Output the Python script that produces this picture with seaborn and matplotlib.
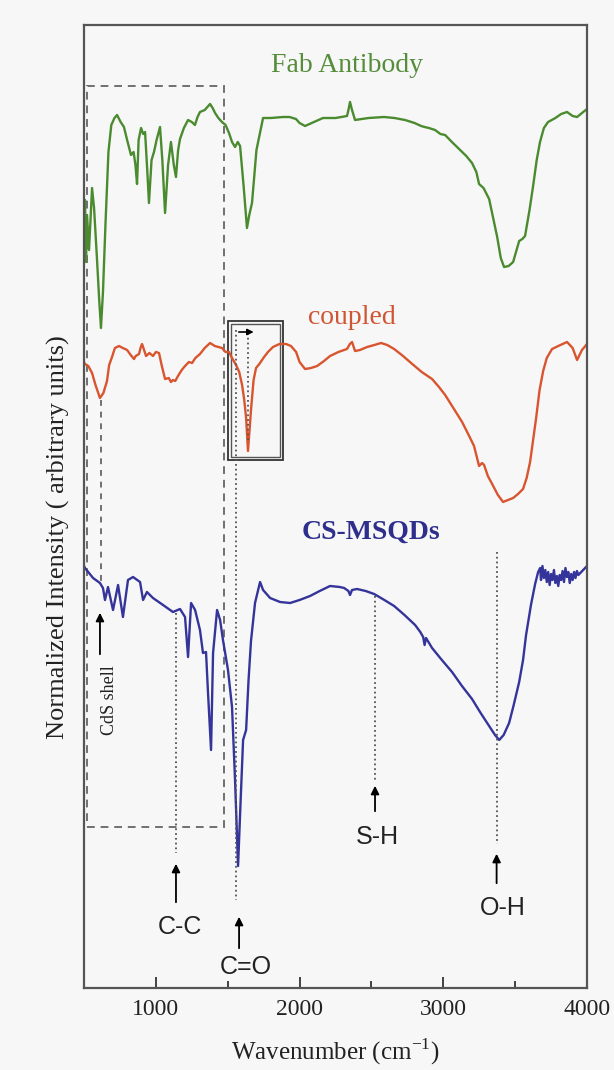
import numpy as np
import pandas as pd
import matplotlib
matplotlib.use("Agg")
import matplotlib.pyplot as plt
from matplotlib.patches import Rectangle
from matplotlib.ticker import FixedLocator
import seaborn as sns

# FTIR spectra, intensity in arbitrary units (curves already offset)
fab_wn = [500, 507, 514, 521, 535, 556, 570, 590, 605, 618, 632, 650, 670, 690, 712, 730, 755, 778,
          800, 827, 845, 858, 869, 880, 897, 912, 925, 940, 952, 970, 987, 1005, 1029, 1045, 1064,
          1085, 1105, 1125, 1140, 1155, 1168, 1195, 1224, 1250, 1272, 1290, 1307, 1340, 1377, 1395,
          1412, 1435, 1460, 1485, 1509, 1530, 1551, 1570, 1586, 1610, 1634, 1650, 1669, 1700, 1746,
          1800, 1885, 1930, 1975, 2000, 2038, 2100, 2163, 2250, 2330, 2340, 2351, 2365, 2386, 2480,
          2588, 2660, 2734, 2800, 2846, 2870, 2900, 2943, 2980, 3013, 3060, 3110, 3160, 3200, 3230,
          3249, 3280, 3319, 3350, 3375, 3400, 3423, 3455, 3486, 3510, 3528, 3550, 3569, 3600, 3625,
          3650, 3673, 3700, 3729, 3780, 3820, 3861, 3900, 3931, 3965, 4000]
fab_int = [743, 788, 726, 773, 738, 800, 780, 730, 690, 660, 696, 766, 836, 863, 870, 873, 866, 861,
           848, 833, 836, 823, 804, 848, 860, 854, 856, 818, 785, 828, 836, 848, 861, 828, 775,
           823, 846, 823, 811, 838, 849, 860, 868, 866, 863, 871, 876, 878, 884, 880,
           875, 870, 866, 863, 855, 846, 841, 846, 842, 803, 760, 773, 785, 838, 870,
           870, 871, 871, 869, 865, 862, 866, 870, 870, 872, 878, 886, 878, 868, 870,
           871, 870, 868, 865, 862, 861, 860, 858, 854, 853, 846, 839, 832, 825, 816,
           804, 800, 789, 768, 751, 730, 721, 722, 726, 738, 747, 749, 752, 778, 802,
           828, 846, 860, 866, 870, 874, 876, 872, 871, 875, 879]

cpl_wn = [500, 507, 530, 556, 580, 611, 635, 660, 675, 695, 715, 744, 770, 800, 825, 848, 860, 883,
          893, 904, 918, 932, 955, 980, 1000, 1022, 1040, 1064, 1090, 1105, 1119, 1135, 1154, 1180,
          1203, 1230, 1252, 1275, 1307, 1340, 1377, 1410, 1460, 1485, 1509, 1530, 1558, 1580, 1600,
          1615, 1628, 1641, 1652, 1662, 1680, 1697, 1720, 1753, 1780, 1815, 1860, 1906, 1940, 1976,
          2000, 2038, 2080, 2122, 2170, 2212, 2270, 2330, 2350, 2365, 2386, 2420, 2470, 2520, 2567,
          2610, 2658, 2720, 2776, 2850, 2922, 2970, 3013, 3070, 3131, 3180, 3214, 3249, 3270, 3284,
          3310, 3340, 3380, 3416, 3450, 3486, 3520, 3555, 3580, 3604, 3625, 3646, 3670, 3695, 3720,
          3757, 3800, 3861, 3900, 3931, 3965, 4000]
cpl_int = [626, 624, 622, 615, 603, 590, 595, 607, 623, 631, 640, 642, 640, 638, 633, 629, 632, 634,
           640, 644, 638, 632, 635, 632, 636, 635, 623, 609, 610, 606, 608, 607, 612, 618,
           622, 626, 625, 630, 634, 640, 645, 642, 640, 636, 636, 630, 623, 616, 603,
           588, 570, 537, 558, 578, 608, 620, 624, 631, 636, 641, 644, 644, 642, 636,
           626, 619, 620, 622, 627, 632, 636, 639, 644, 646, 637, 638, 641, 643, 645,
           643, 639, 632, 625, 616, 609, 601, 593, 580, 566, 552, 542, 522, 525, 523,
           512, 504, 493, 486, 488, 490, 494, 499, 510, 526, 548, 570, 598, 617, 630,
           639, 642, 646, 640, 628, 638, 644]

qd_wn = [500, 507, 563, 611, 632, 646, 667, 702, 737, 771, 806, 841, 890, 911, 938, 980, 1050, 1119,
         1168, 1203, 1224, 1245, 1273, 1307, 1328, 1349, 1363, 1384, 1398, 1426, 1447, 1467, 1502,
         1530, 1551, 1572, 1590, 1607, 1628, 1645, 1662, 1690, 1725, 1746, 1795, 1864, 1934, 2000,
         2073, 2140, 2212, 2280, 2310, 2340, 2351, 2365, 2400, 2460, 2519, 2590, 2658, 2730, 2804,
         2840, 2860, 2870, 2880, 2922, 2990, 3061, 3130, 3200, 3260, 3319, 3360, 3389, 3420, 3458,
         3490, 3528, 3555, 3576, 3610, 3639, 3660, 3674, 3680, 3690, 3700, 3710, 3720, 3730, 3740,
         3750, 3760, 3770, 3780, 3790, 3800, 3810, 3820, 3830, 3840, 3850, 3860, 3870, 3880, 3890,
         3900, 3910, 3920, 3930, 3940, 3960, 3980, 4000]
qd_int = [422, 420, 410, 405, 400, 388, 401, 378, 403, 371, 408, 411, 406, 388, 396, 390, 383, 376,
          379, 371, 331, 385, 378, 358, 335, 336, 295, 238, 335, 378, 368, 348, 318,
          281, 208, 122, 188, 248, 258, 308, 347, 385, 406, 398, 390, 386, 385, 388,
          392, 397, 402, 401, 400, 397, 393, 398, 399, 397, 394, 388, 382, 373, 363,
          356, 351, 343, 350, 340, 328, 316, 302, 289, 275, 262, 253, 248, 253, 265,
          283, 306, 328, 353, 383, 404, 416, 420, 408, 422, 410, 418, 406, 416, 403,
          414, 408, 418, 405, 412, 402, 413, 408, 417, 406, 420, 411, 416, 405, 414,
          408, 416, 410, 417, 413, 416, 419, 422]

series_names = ["Fab Antibody", "coupled", "CS-MSQDs"]
series_colors = ["#4b8b30", "#d8552f", "#34349a"]

df = pd.concat([
    pd.DataFrame({"wn": fab_wn, "I": fab_int, "sample": series_names[0]}),
    pd.DataFrame({"wn": cpl_wn, "I": cpl_int, "sample": series_names[1]}),
    pd.DataFrame({"wn": qd_wn, "I": qd_int, "sample": series_names[2]}),
])

sns.set_theme(style="ticks")
plt.rcParams["font.family"] = ["Liberation Serif", "DejaVu Serif"]
plt.rcParams["mathtext.fontset"] = "custom"
plt.rcParams["mathtext.rm"] = "Liberation Serif"
bg = "#f7f7f7"

fig = plt.figure(figsize=(6.14, 10.7), dpi=100, facecolor=bg)
ax = fig.add_axes([84 / 614, 82 / 1070, 503 / 614, 963 / 1070])
ax.set_facecolor(bg)

sns.lineplot(data=df, x="wn", y="I", hue="sample", palette=series_colors, sort=False,
             estimator=None, linewidth=1.7, legend=False, ax=ax)

ax.set_xlim(500, 4000)
ax.set_ylim(0, 963)

# spectrum labels
ax.text(2330, 922, "Fab Antibody", color="#558d3a", fontsize=20, ha="center", va="center")
ax.text(2365, 671, "coupled", color="#cf5634", fontsize=20, ha="center", va="center")
ax.text(2498, 456, "CS-MSQDs", color="#2e2e8c", fontsize=20, fontweight="bold", ha="center", va="center")

# dashed region and CdS shell marker
ax.add_patch(Rectangle((521, 161), 1474 - 521, 902 - 161, fill=False, ls=(0, (4, 3)), lw=1.4, ec="#707070"))
ax.plot([618, 618], [588, 405], ls=(0, (3, 3)), lw=1.4, color="#707070")
arrow = dict(arrowstyle="-|>", color="black", lw=1.3, mutation_scale=12)
ax.annotate("", xy=(611, 378), xytext=(611, 331), arrowprops=arrow)
ax.text(674, 288, "CdS shell", rotation=90, fontsize=13, ha="center", va="center", color="#222222")

# box around the shifted C=O band in the coupled spectrum
ax.add_patch(Rectangle((1502, 528), 383, 139, fill=False, lw=1.3, ec="#333333"))
ax.add_patch(Rectangle((1523, 531), 341, 133, fill=False, lw=1.0, ec="#555555"))
ax.annotate("", xy=(1700, 656), xytext=(1558, 656),
            arrowprops=dict(arrowstyle="-|>", color="black", lw=1.2, mutation_scale=9))
ax.plot([1641, 1641], [655, 548], ls=":", lw=1.3, color="#555555")

# band assignments
dot = dict(ls=":", lw=1.3, color="#555555")
ax.plot([1558, 1558], [658, 88], **dot)
ax.plot([1140, 1140], [375, 135], **dot)
ax.plot([2525, 2525], [392, 208], **dot)
ax.plot([3371, 3371], [436, 144], **dot)

bond_font = dict(family=["Liberation Sans", "DejaVu Sans"], fontsize=18, ha="center", va="center", color="#222222")
ax.annotate("", xy=(1140, 127), xytext=(1140, 83), arrowprops=arrow)
ax.text(1168, 61, "C-C", **bond_font)
ax.annotate("", xy=(1579, 74), xytext=(1579, 37), arrowprops=arrow)
ax.text(1628, 21, "C=O", **bond_font)
ax.annotate("", xy=(2525, 205), xytext=(2525, 174), arrowprops=arrow)
ax.text(2539, 151, "S-H", **bond_font)
ax.annotate("", xy=(3371, 137), xytext=(3371, 102), arrowprops=arrow)
ax.text(3416, 80, "O-H", **bond_font)

# axes styling
ax.xaxis.set_major_locator(FixedLocator([1000, 2000, 3000, 4000]))
ax.xaxis.set_minor_locator(FixedLocator([1500, 2500, 3500]))
ax.tick_params(axis="x", which="major", direction="in", length=8, width=1.3, pad=8,
               labelsize=17, colors="#333333", labelcolor="#222222")
ax.tick_params(axis="x", which="minor", direction="in", length=5, width=1.3, colors="#333333")
ax.set_yticks([])
for s in ax.spines.values():
    s.set_visible(True)
    s.set_linewidth(1.6)
    s.set_color("#555555")

ax.set_xlabel("Wavenumber (cm$^{\\mathregular{-1}}$)", fontsize=18, color="#222222", va="center")
ax.set_ylabel("Normalized Intensity ( arbitrary units)", fontsize=19, color="#222222")
ax.xaxis.set_label_coords(0.5, -0.066)
ax.yaxis.set_label_coords(-0.028, 0.468)

fig.savefig("out.png", dpi=100, facecolor=bg)
